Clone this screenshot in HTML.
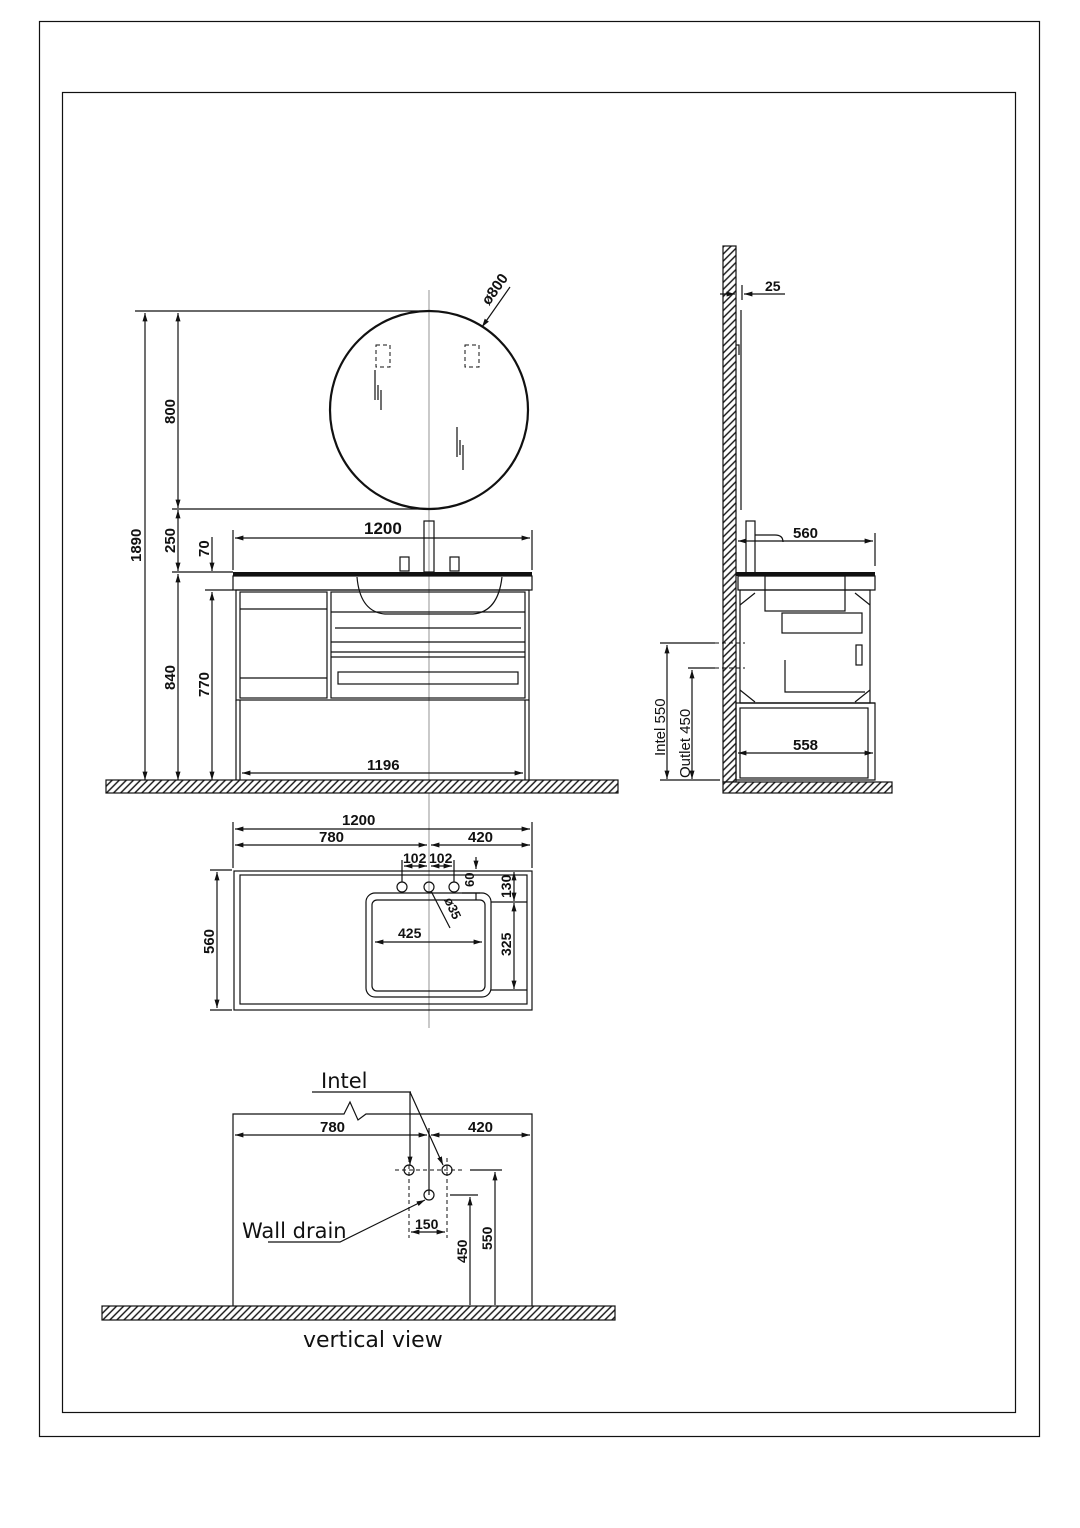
<!DOCTYPE html>
<html><head><meta charset="utf-8"><style>
html,body{margin:0;padding:0;background:#fff}
svg{display:block}
text{font-family:"Liberation Sans Narrow","Liberation Sans",sans-serif;font-weight:bold;fill:#111}
.l{stroke:#111;fill:none;stroke-width:1.2}
.t{stroke:#111;fill:none;stroke-width:2.2}
.c{stroke:#888;fill:none;stroke-width:0.9}
.d{stroke:#111;fill:none;stroke-width:1;stroke-dasharray:4 3}
.hh{stroke:#111;stroke-width:1.2;fill:url(#h)}
</style></head><body>
<svg width="1080" height="1528" viewBox="0 0 1080 1528" xmlns="http://www.w3.org/2000/svg">
<defs>
<pattern id="h" width="5" height="5" patternUnits="userSpaceOnUse" patternTransform="rotate(45)">
<rect width="5" height="5" fill="#fff"/>
<line x1="1" y1="0" x2="1" y2="5" stroke="#111" stroke-width="1.4"/></pattern>
<marker id="a" viewBox="0 0 10 10" refX="10" refY="5" markerWidth="7" markerHeight="7" orient="auto-start-reverse"><path d="M0,2 L10,5 L0,8z" fill="#111"/></marker>
</defs>
<rect x="39.5" y="21.5" width="1000" height="1415" class="l" stroke-width="1"/>
<rect x="62.5" y="92.5" width="953" height="1320" class="l" stroke-width="1"/>

<!-- FRONT VIEW -->
<line x1="429" y1="290" x2="429" y2="1028" class="c"/>
<circle cx="429" cy="410" r="99" class="t" stroke-width="3"/>
<line x1="482" y1="327" x2="510" y2="287" class="l" marker-start="url(#a)"/>
<text x="0" y="0" font-size="15" transform="translate(489,306) rotate(-55)">ø800</text>
<rect x="376" y="345" width="14" height="22" class="d" stroke-width="0.7"/>
<rect x="465" y="345" width="14" height="22" class="d" stroke-width="0.7"/>
<path d="M375,370v30M378,385v15M381,390v20M457,427v30M460,440v15M463,445v25" class="l" stroke-width="1.5"/>
<line x1="135" y1="311" x2="429" y2="311" class="l"/>
<line x1="172" y1="509" x2="429" y2="509" class="l"/>
<line x1="172" y1="572" x2="233" y2="572" class="l"/>
<line x1="205" y1="590" x2="233" y2="590" class="l"/>
<line x1="145" y1="313" x2="145" y2="780" class="l" marker-start="url(#a)" marker-end="url(#a)"/>
<line x1="178" y1="313" x2="178" y2="508" class="l" marker-start="url(#a)" marker-end="url(#a)"/>
<line x1="178" y1="510" x2="178" y2="571" class="l" marker-start="url(#a)" marker-end="url(#a)"/>
<line x1="178" y1="574" x2="178" y2="780" class="l" marker-start="url(#a)" marker-end="url(#a)"/>
<line x1="212" y1="537" x2="212" y2="571" class="l" marker-end="url(#a)"/>
<line x1="212" y1="592" x2="212" y2="780" class="l" marker-start="url(#a)" marker-end="url(#a)"/>
<text font-size="15" transform="translate(141,562) rotate(-90)">1890</text>
<text font-size="15" transform="translate(175,424) rotate(-90)">800</text>
<text font-size="15" transform="translate(175,553) rotate(-90)">250</text>
<text font-size="15" transform="translate(209,557) rotate(-90)">70</text>
<text font-size="15" transform="translate(175,690) rotate(-90)">840</text>
<text font-size="15" transform="translate(209,697) rotate(-90)">770</text>
<rect x="106" y="780" width="512" height="13" class="hh"/>
<line x1="233" y1="530" x2="233" y2="570" class="l"/><line x1="532" y1="530" x2="532" y2="570" class="l"/>
<line x1="235" y1="538" x2="530" y2="538" class="l" marker-start="url(#a)" marker-end="url(#a)"/>
<text x="364" y="534" font-size="17">1200</text>
<rect x="424" y="521" width="10" height="51" class="l"/>
<rect x="400" y="557" width="9" height="14" class="l"/><rect x="450" y="557" width="9" height="14" class="l"/>
<rect x="233" y="572" width="299" height="4" fill="#111"/>
<rect x="233" y="576" width="299" height="14" class="l"/>
<path d="M357,577 Q360,612 385,614 L473,614 Q498,612 502,577" class="l" stroke-width="1.8"/>
<rect x="236" y="590" width="293" height="110" class="l"/>
<rect x="240" y="592" width="87" height="106" class="l"/>
<line x1="240" y1="609" x2="327" y2="609" class="l"/><line x1="240" y1="678" x2="327" y2="678" class="l"/>
<rect x="331" y="592" width="194" height="106" class="l"/>
<line x1="331" y1="612" x2="525" y2="612" class="l"/><line x1="335" y1="628" x2="521" y2="628" class="l"/>
<line x1="331" y1="642" x2="525" y2="642" class="l"/><line x1="331" y1="652" x2="525" y2="652" class="l"/><line x1="331" y1="657" x2="525" y2="657" class="l"/>
<rect x="338" y="672" width="180" height="12" class="l"/>
<line x1="236" y1="700" x2="236" y2="780" class="l"/><line x1="240" y1="700" x2="240" y2="780" class="l"/>
<line x1="525" y1="700" x2="525" y2="780" class="l"/><line x1="529" y1="700" x2="529" y2="780" class="l"/>
<line x1="242" y1="773" x2="523" y2="773" class="l" marker-start="url(#a)" marker-end="url(#a)"/>
<text x="367" y="770" font-size="15">1196</text>

<!-- PLAN VIEW -->
<line x1="233" y1="822" x2="233" y2="868" class="l"/><line x1="532" y1="822" x2="532" y2="868" class="l"/>
<line x1="235" y1="829" x2="530" y2="829" class="l" marker-start="url(#a)" marker-end="url(#a)"/>
<line x1="235" y1="845" x2="427" y2="845" class="l" marker-start="url(#a)" marker-end="url(#a)"/>
<line x1="431" y1="845" x2="530" y2="845" class="l" marker-start="url(#a)" marker-end="url(#a)"/>
<text x="342" y="825" font-size="15">1200</text><text x="319" y="842" font-size="15">780</text><text x="468" y="842" font-size="15">420</text>
<rect x="234" y="871" width="298" height="139" class="l" stroke-width="1.6"/>
<rect x="240" y="875" width="287" height="129" class="l" stroke-width="0.8"/>
<rect x="366" y="893" width="125" height="104" rx="9" class="l"/>
<rect x="372" y="900" width="113" height="91" rx="5" class="l" stroke-width="1.8"/>
<circle cx="402" cy="887" r="5" class="l"/><circle cx="429" cy="887" r="5" class="l"/><circle cx="454" cy="887" r="5" class="l"/>
<path d="M402,860v22M454,860v22" class="l"/>
<line x1="404" y1="866" x2="427" y2="866" class="l" marker-start="url(#a)" marker-end="url(#a)"/>
<line x1="431" y1="866" x2="452" y2="866" class="l" marker-start="url(#a)" marker-end="url(#a)"/>
<text x="403" y="863" font-size="14">102</text><text x="429" y="863" font-size="14">102</text>
<line x1="431" y1="891" x2="450" y2="928" class="l"/>
<text font-size="13" transform="translate(444,900) rotate(65)">ø35</text>
<line x1="476" y1="857" x2="476" y2="869" class="l" marker-end="url(#a)"/>
<line x1="476" y1="893" x2="476" y2="900" class="l"/>
<line x1="462" y1="893" x2="480" y2="893" class="l"/>
<text font-size="13" transform="translate(474,887) rotate(-90)">60</text>
<line x1="491" y1="902" x2="527" y2="902" class="l"/><line x1="491" y1="990" x2="527" y2="990" class="l"/>
<line x1="514" y1="872" x2="514" y2="901" class="l" marker-start="url(#a)" marker-end="url(#a)"/>
<line x1="514" y1="903" x2="514" y2="989" class="l" marker-start="url(#a)" marker-end="url(#a)"/>
<text font-size="14" transform="translate(511,898) rotate(-90)">130</text>
<text font-size="14" transform="translate(511,956) rotate(-90)">325</text>
<line x1="375" y1="942" x2="482" y2="942" class="l" marker-start="url(#a)" marker-end="url(#a)"/>
<text x="398" y="938" font-size="14">425</text>
<line x1="210" y1="870" x2="232" y2="870" class="l"/><line x1="210" y1="1010" x2="232" y2="1010" class="l"/>
<line x1="217" y1="872" x2="217" y2="1008" class="l" marker-start="url(#a)" marker-end="url(#a)"/>
<text font-size="15" transform="translate(214,954) rotate(-90)">560</text>

<!-- SIDE VIEW -->
<rect x="723" y="246" width="13" height="536" class="hh"/>
<line x1="741" y1="310" x2="741" y2="510" class="l" stroke-width="2"/>
<path d="M736,345h3v10" class="l"/>
<line x1="742" y1="285" x2="742" y2="300" class="l"/>
<line x1="720" y1="294" x2="735" y2="294" class="l" marker-end="url(#a)"/>
<line x1="785" y1="294" x2="744" y2="294" class="l" marker-end="url(#a)"/>
<text x="765" y="291" font-size="14">25</text>
<rect x="746" y="521" width="9" height="52" class="l"/>
<path d="M755,535h20q8,0 8,7" class="l" stroke-width="2"/>
<line x1="875" y1="533" x2="875" y2="566" class="l"/>
<line x1="738" y1="541" x2="873" y2="541" class="l" marker-start="url(#a)" marker-end="url(#a)"/>
<text x="793" y="538" font-size="15">560</text>
<rect x="736" y="572" width="139" height="4" fill="#111"/>
<rect x="738" y="576" width="137" height="14" class="l"/>
<rect x="740" y="590" width="130" height="113" class="l"/>
<line x1="740" y1="703" x2="875" y2="703" class="l"/>
<rect x="765" y="576" width="80" height="35" class="l"/>
<rect x="782" y="613" width="80" height="20" class="l"/>
<path d="M785,660v32h80" class="l"/>
<rect x="856" y="645" width="6" height="20" class="l"/>
<path d="M740,605l15,-12M870,605l-15,-12M740,690l15,12M870,690l-15,12" class="l"/>
<rect x="736" y="703" width="139" height="77" class="l"/>
<rect x="740" y="708" width="128" height="70" class="l"/>
<line x1="738" y1="753" x2="873" y2="753" class="l" marker-start="url(#a)" marker-end="url(#a)"/>
<text x="793" y="750" font-size="15">558</text>
<rect x="723" y="782" width="169" height="11" class="hh"/>
<line x1="660" y1="643" x2="715" y2="643" class="l"/><line x1="715" y1="643" x2="745" y2="643" class="d" stroke-width="0.8"/>
<line x1="688" y1="668" x2="715" y2="668" class="l"/><line x1="715" y1="668" x2="745" y2="668" class="d" stroke-width="0.8"/>
<line x1="660" y1="780" x2="720" y2="780" class="l"/>
<line x1="667" y1="645" x2="667" y2="779" class="l" marker-start="url(#a)" marker-end="url(#a)"/>
<line x1="692" y1="670" x2="692" y2="779" class="l" marker-start="url(#a)" marker-end="url(#a)"/>
<text font-size="15" transform="translate(665,756) rotate(-90)" style="font-weight:normal">Intel 550</text>
<text font-size="15" transform="translate(690,778) rotate(-90)" style="font-weight:normal">Outlet 450</text>

<!-- VERTICAL VIEW -->
<path d="M233,1306V1114H344l6,-12l8,18l8,-6H532V1306" class="l" stroke-width="1.4"/>
<rect x="102" y="1306" width="513" height="14" class="hh"/>
<line x1="429" y1="1128" x2="429" y2="1195" class="l"/>
<line x1="235" y1="1135" x2="427" y2="1135" class="l" marker-start="url(#a)" marker-end="url(#a)"/>
<line x1="431" y1="1135" x2="530" y2="1135" class="l" marker-start="url(#a)" marker-end="url(#a)"/>
<text x="320" y="1132" font-size="15">780</text><text x="468" y="1132" font-size="15">420</text>
<circle cx="409" cy="1170" r="5" class="l"/><circle cx="447" cy="1170" r="5" class="l"/><circle cx="429" cy="1195" r="5" class="l"/>
<path d="M395,1170h70M409,1158v80M447,1158v80" class="d" stroke-width="0.6"/>
<line x1="470" y1="1170" x2="502" y2="1170" class="l"/><line x1="450" y1="1195" x2="478" y2="1195" class="l"/>
<line x1="495" y1="1172" x2="495" y2="1305" class="l" marker-start="url(#a)"/>
<line x1="470" y1="1197" x2="470" y2="1305" class="l" marker-start="url(#a)"/>
<text font-size="14" transform="translate(492,1250) rotate(-90)">550</text>
<text font-size="14" transform="translate(467,1263) rotate(-90)">450</text>
<line x1="411" y1="1232" x2="445" y2="1232" class="l" marker-start="url(#a)" marker-end="url(#a)"/>
<text x="415" y="1229" font-size="14">150</text>
<path d="M312,1092H411" class="l"/>
<line x1="410" y1="1092" x2="410" y2="1165" class="l" marker-end="url(#a)"/>
<line x1="410" y1="1092" x2="443" y2="1165" class="l" marker-end="url(#a)"/>
<text x="321" y="1088" font-size="21" style="font-weight:normal;font-family:'DejaVu Sans','Liberation Sans',sans-serif">Intel</text>
<path d="M268,1242H340L425,1200" class="l" marker-end="url(#a)"/>
<text x="242" y="1238" font-size="21" style="font-weight:normal;font-family:'DejaVu Sans','Liberation Sans',sans-serif">Wall drain</text>
<text x="303" y="1347" font-size="22" style="font-weight:normal;font-family:'DejaVu Sans','Liberation Sans',sans-serif">vertical view</text>
</svg>
</body></html>
